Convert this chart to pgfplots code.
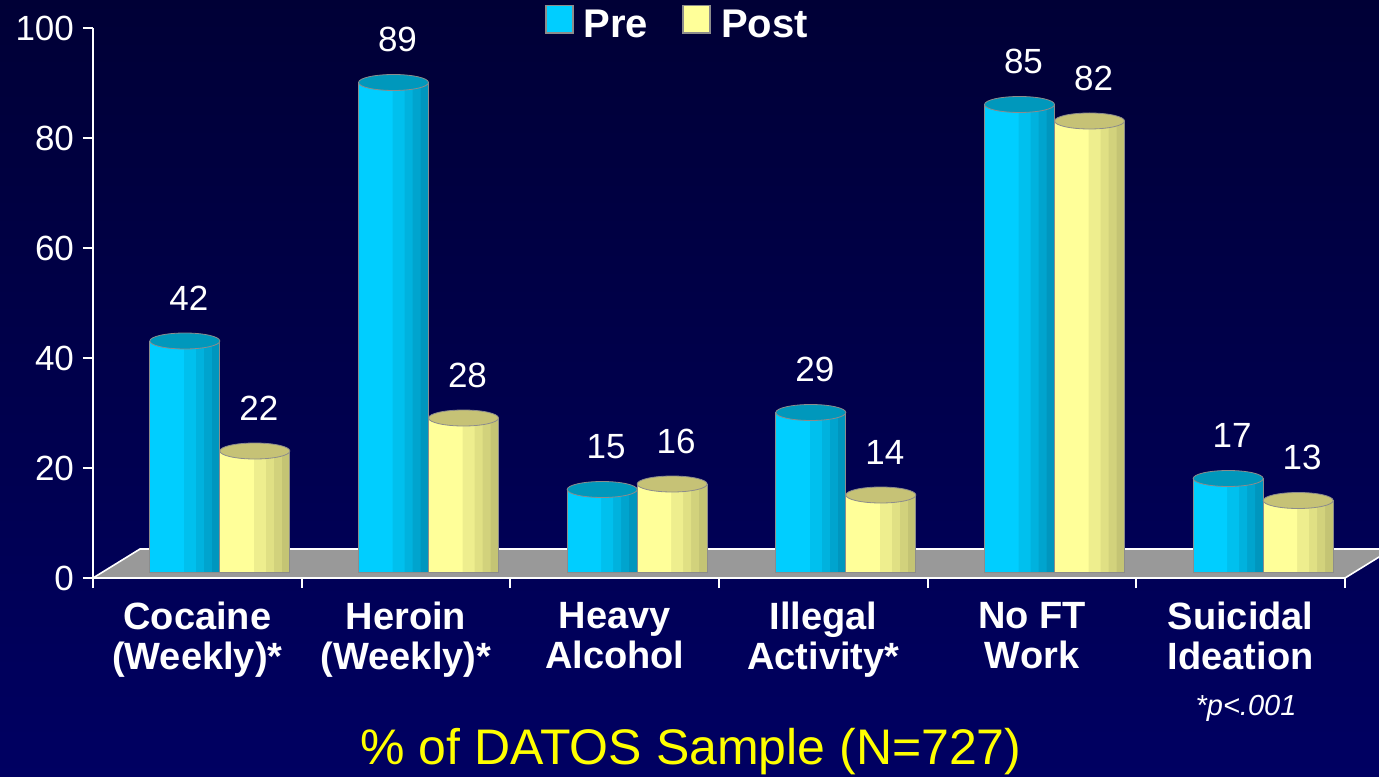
\documentclass[border=0pt]{standalone}
\usepackage{pgfplots}
\pgfplotsset{compat=1.18}
\usepackage{pgfplotstable}
\usepackage{fontspec}
\setmainfont{Liberation Sans}
\definecolor{bgtop}{RGB}{0,0,54}
\definecolor{bgbot}{RGB}{0,0,98}
\definecolor{pre1}{RGB}{0,206,255}
\definecolor{pre2}{RGB}{0,192,238}
\definecolor{pre3}{RGB}{0,178,222}
\definecolor{pre4}{RGB}{0,164,206}
\definecolor{pre5}{RGB}{0,150,190}
\definecolor{preC}{RGB}{0,152,188}
\definecolor{post1}{RGB}{255,255,153}
\definecolor{post2}{RGB}{238,238,142}
\definecolor{post3}{RGB}{224,224,132}
\definecolor{post4}{RGB}{210,210,124}
\definecolor{post5}{RGB}{196,196,116}
\definecolor{postC}{RGB}{198,194,118}
\definecolor{floorc}{RGB}{153,153,153}
\definecolor{edge}{RGB}{140,140,140}
\definecolor{ttl}{RGB}{255,255,0}

\pgfdeclareplotmark{cap}{\pgfpathellipse{\pgfpointorigin}{\pgfqpoint{17.5pt}{0pt}}{\pgfqpoint{0pt}{4pt}}\pgfusepathqfillstroke}

\pgfplotstableread{
x pre post
0 42 22
1 89 28
2 15 16
3 29 14
4 85 82
5 17 13
}\datatable

\pgfplotsset{
  layer/.style n args={3}{bar width=#1, bar shift=#2, fill=#3, draw=none, forget plot, yshift=3pt},
}

\begin{document}
\begin{tikzpicture}
\shade[top color=bgtop,bottom color=bgbot] (-46.5pt,-99pt) rectangle (643pt,289pt);
\fill[floorc] (0pt,0pt) -- (626pt,0pt) -- (649.5pt,14.5pt) -- (23.5pt,14.5pt) -- cycle;
\draw[white,line width=0.8pt] (0pt,0pt) -- (23.5pt,14.5pt) -- (649.5pt,14.5pt);
\draw[white,line width=0.8pt] (626pt,0pt) -- (649.5pt,14.5pt);
\begin{axis}[
  at={(0pt,0pt)}, anchor=south west,
  scale only axis, width=626pt, height=275pt,
  xmin=-0.5, xmax=5.5, ymin=0, ymax=100,
  ybar,
  axis x line*=bottom, axis y line*=left,
  axis line style={white, line width=1pt},
  ytick={0,20,40,60,80,100},
  xtick={-0.5,0.5,1.5,2.5,3.5,4.5,5.5}, xticklabels={},
  tick align=outside, major tick length=5pt,
  tick style={white, line width=1pt},
  extra x ticks={0,1,2,3,4,5},
  extra x tick labels={{Cocaine\\(Weekly)*},{Heroin\\(Weekly)*},{Heavy\\Alcohol},{Illegal\\Activity*},{No FT\\Work},{Suicidal\\Ideation}},
  extra x tick style={major tick length=0pt},
  xticklabel style={align=center, font=\bfseries\fontsize{19}{20}\selectfont, text=white, yshift=-8.5pt},
  yticklabel style={font=\fontsize{17.5}{20}\selectfont, text=white, xshift=-1pt},
  /pgf/number format/assume math mode=true,
  legend style={at={(0.4675,1.006)}, anchor=center, draw=none, fill=none,
    legend columns=2, font=\bfseries\fontsize{20}{22}\selectfont, text=white,
    /tikz/every odd column/.append style={column sep=3pt},
    /tikz/every even column/.append style={column sep=15pt}},
]
% Pre series: striped cylinder faces
\addplot[layer={35pt}{-6.25pt}{pre5}] table[x=x,y=pre]{\datatable};
\addplot[layer={31pt}{-8.25pt}{pre4}] table[x=x,y=pre]{\datatable};
\addplot[layer={27pt}{-10.25pt}{pre3}] table[x=x,y=pre]{\datatable};
\addplot[layer={23pt}{-12.25pt}{pre2}] table[x=x,y=pre]{\datatable};
\addplot[layer={17pt}{-15.25pt}{pre1}] table[x=x,y=pre]{\datatable};
\addplot[bar width=35pt, bar shift=-6.25pt, draw=edge, fill=none, yshift=3pt,
  legend image code/.code={\draw[draw=edge, fill=pre1, line width=0.8pt] (0pt,-6.8pt) rectangle (13.6pt,6.8pt);}]
  table[x=x,y=pre]{\datatable};
\addlegendentry{Pre}
% Post series
\addplot[layer={35pt}{28.75pt}{post5}] table[x=x,y=post]{\datatable};
\addplot[layer={31pt}{26.75pt}{post4}] table[x=x,y=post]{\datatable};
\addplot[layer={27pt}{24.75pt}{post3}] table[x=x,y=post]{\datatable};
\addplot[layer={23pt}{22.75pt}{post2}] table[x=x,y=post]{\datatable};
\addplot[layer={17pt}{19.75pt}{post1}] table[x=x,y=post]{\datatable};
\addplot[bar width=35pt, bar shift=28.75pt, draw=edge, fill=none, yshift=3pt,
  legend image code/.code={\draw[draw=edge, fill=post1, line width=0.8pt] (0pt,-6.8pt) rectangle (13.6pt,6.8pt);}]
  table[x=x,y=post]{\datatable};
\addlegendentry{Post}
% caps and value labels
\addplot[only marks, forget plot, mark=cap, mark options={fill=preC, draw=edge, xshift=-6.25pt, yshift=3pt},
  nodes near coords, bar shift=0pt,
  every node near coord/.append style={font=\fontsize{17.5}{20}\selectfont, text=white, anchor=center, yshift=21.5pt, xshift=2pt}]
  table[x=x,y=pre]{\datatable};
\addplot[only marks, forget plot, mark=cap, mark options={fill=postC, draw=edge, xshift=28.75pt, yshift=3pt},
  nodes near coords, bar shift=0pt,
  every node near coord/.append style={font=\fontsize{17.5}{20}\selectfont, text=white, anchor=center, yshift=21.5pt, xshift=2pt}]
  table[x=x,y=post]{\datatable};
\end{axis}
\node[text=ttl, font=\fontsize{25}{28}\selectfont] at (299pt,-87pt) {\% of DATOS Sample (N=727)};
\node[text=white, font=\itshape\fontsize{14.5}{17}\selectfont] at (576.5pt,-65pt) {*p<.001};
\pgfresetboundingbox
\useasboundingbox (-46.5pt,-99pt) rectangle (643pt,289pt);
\end{tikzpicture}
\end{document}
